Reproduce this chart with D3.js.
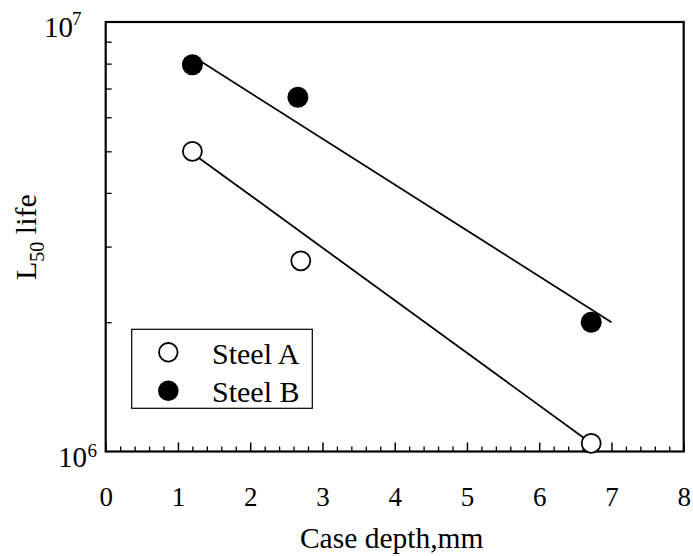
<!DOCTYPE html>
<html>
<head>
<meta charset="utf-8">
<script src="https://cdn.jsdelivr.net/npm/d3@7"></script>
<style>
  html, body { margin: 0; padding: 0; background: #fff; }
</style>
</head>
<body>
<svg id="chart" width="693" height="556"></svg>
<script>
// Case depth (mm) and L50 life for the two steels
const depthA = [1.2, 2.7, 6.72];
const lifeA  = [5.0e6, 2.78e6, 1.045e6];
const depthB = [1.2, 2.66, 6.72];
const lifeB  = [7.95e6, 6.68e6, 2.0e6];

// Trend lines (end points)
const fitADepth = [1.2, 6.72];
const fitALife  = [4.95e6, 1.045e6];
const fitBDepth = [1.2, 7.0];
const fitBLife  = [8.33e6, 2.0e6];

// Axis ticks
const xMajorTicks = [0, 1, 2, 3, 4, 5, 6, 7, 8];
const xMinorTicks = [0.2,0.4,0.6,0.8,1.2,1.4,1.6,1.8,2.2,2.4,2.6,2.8,3.2,3.4,3.6,3.8,
                     4.2,4.4,4.6,4.8,5.2,5.4,5.6,5.8,6.2,6.4,6.6,6.8,7.2,7.4,7.6,7.8];
const yMinorTicks = [2e6, 3e6, 4e6, 5e6, 6e6, 7e6, 8e6, 9e6];
const yDecades = [{base: "10", exp: "6", v: 1e6}, {base: "10", exp: "7", v: 1e7}];

const seriesNames = ["Steel A", "Steel B"];

const SERIF = "'Liberation Serif', 'Times New Roman', 'DejaVu Serif', serif";

const svg = d3.select("#chart");
const plotLeft = 105.7, plotRight = 683.7, plotTop = 22, plotBottom = 451.5;

const x = d3.scaleLinear().domain([0, 8]).range([plotLeft, plotRight]);
const y = d3.scaleLog().domain([1e6, 1e7]).range([plotBottom, plotTop]);

function label(sel, size) {
  return sel.attr("font-family", null).style("font-family", SERIF)
    .style("font-size", size + "px").attr("fill", "#000");
}

// Bottom axis: inward major and minor ticks
const xAxis = svg.append("g").attr("transform", `translate(0,${plotBottom})`)
  .call(d3.axisBottom(x).tickValues(xMajorTicks).tickSizeInner(-9).tickSizeOuter(0)
        .tickFormat(d3.format("d")));
xAxis.attr("font-family", null).attr("font-size", null);
xAxis.select(".domain").remove();
xAxis.selectAll(".tick line").attr("stroke", "#000").attr("stroke-width", 1.5);
label(xAxis.selectAll(".tick text").attr("y", 54.5).attr("dy", null), 27);

const xMinor = svg.append("g").attr("transform", `translate(0,${plotBottom})`)
  .call(d3.axisBottom(x).tickValues(xMinorTicks).tickSizeInner(-5).tickSizeOuter(0).tickFormat(""));
xMinor.select(".domain").remove();
xMinor.selectAll(".tick line").attr("stroke", "#000").attr("stroke-width", 1.3);

// Left axis: inward ticks between decades
const yAxis = svg.append("g").attr("transform", `translate(${plotLeft},0)`)
  .call(d3.axisLeft(y).tickValues(yMinorTicks).tickSizeInner(-6).tickSizeOuter(0).tickFormat(""));
yAxis.select(".domain").remove();
yAxis.selectAll(".tick line").attr("stroke", "#000").attr("stroke-width", 1.3);

// Decade labels with superscript exponents
const decadePos = {"6": {bx: 58, by: y(1e6) + 15, ex: 87.5, ey: y(1e6) + 5.5},
                   "7": {bx: 44, by: y(1e7) + 15, ex: 72, ey: y(1e7) + 3}};
yDecades.forEach(d => {
  const p = decadePos[d.exp];
  label(svg.append("text").attr("x", p.bx).attr("y", p.by), 29).text(d.base);
  label(svg.append("text").attr("x", p.ex).attr("y", p.ey), 19).text(d.exp);
});

// Plot frame
svg.append("rect").attr("x", plotLeft).attr("y", plotTop)
  .attr("width", plotRight - plotLeft).attr("height", plotBottom - plotTop)
  .attr("fill", "none").attr("stroke", "#000").attr("stroke-width", 2.2);

// Trend lines
const line = d3.line().x(d => x(d[0])).y(d => y(d[1]));
[[fitADepth, fitALife], [fitBDepth, fitBLife]].forEach(([dx, dy]) => {
  svg.append("path").datum(dx.map((v, i) => [v, dy[i]]))
    .attr("d", line).attr("fill", "none").attr("stroke", "#000").attr("stroke-width", 1.8);
});

// Data points
svg.append("g").selectAll("circle").data(depthA.map((v, i) => [v, lifeA[i]])).join("circle")
  .attr("cx", d => x(d[0])).attr("cy", d => y(d[1])).attr("r", 9.5)
  .attr("fill", "#fff").attr("stroke", "#000").attr("stroke-width", 1.8);
svg.append("g").selectAll("circle").data(depthB.map((v, i) => [v, lifeB[i]])).join("circle")
  .attr("cx", d => x(d[0])).attr("cy", d => y(d[1])).attr("r", 10.5)
  .attr("fill", "#000");

// Legend
const lg = svg.append("g");
lg.append("rect").attr("x", 131.7).attr("y", 329.3).attr("width", 180.6).attr("height", 79)
  .attr("fill", "#fff").attr("stroke", "#000").attr("stroke-width", 1.2);
lg.append("circle").attr("cx", 168.3).attr("cy", 352.3).attr("r", 9.3)
  .attr("fill", "#fff").attr("stroke", "#000").attr("stroke-width", 1.8);
lg.append("circle").attr("cx", 168.3).attr("cy", 390.7).attr("r", 10.3).attr("fill", "#000");
label(lg.append("text").attr("x", 212).attr("y", 363.5), 30).text(seriesNames[0]);
label(lg.append("text").attr("x", 212).attr("y", 402), 30).text(seriesNames[1]);

// Axis titles
label(svg.append("text").attr("x", (plotLeft + plotRight) / 2 - 3).attr("y", 548)
  .attr("text-anchor", "middle"), 29.5).text("Case depth,mm");

const yt = label(svg.append("text").attr("transform", "translate(36,280) rotate(-90)"), 30);
yt.append("tspan").text("L");
yt.append("tspan").attr("dy", 7.5).style("font-size", "20px").text("50");
yt.append("tspan").attr("dy", -7.5).text(" life");
</script>
</body>
</html>
